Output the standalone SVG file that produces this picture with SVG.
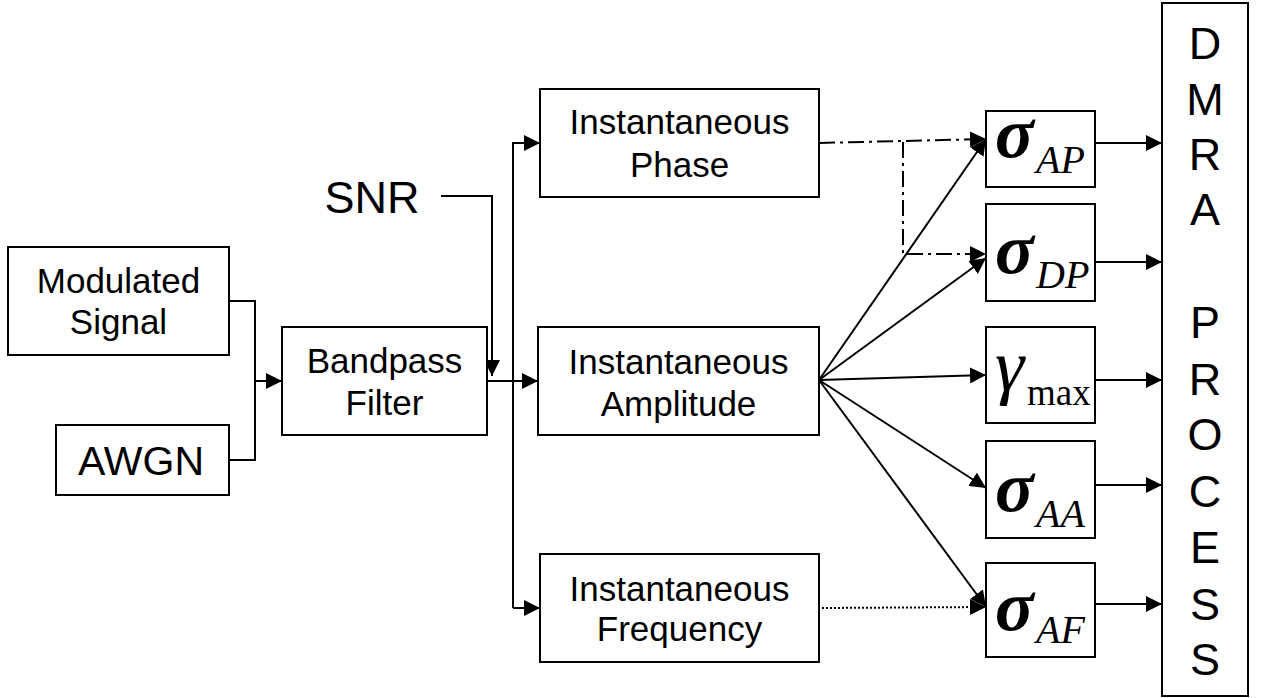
<svg xmlns="http://www.w3.org/2000/svg" width="1261" height="698" viewBox="0 0 1261 698">
<style>
.box{fill:#fff;stroke:#000;stroke-width:2}
.t{font-family:"Liberation Sans",Arial,sans-serif;font-size:35px;fill:#000;text-anchor:middle}
.big{font-family:"Liberation Sans",Arial,sans-serif;font-size:45px;fill:#000;text-anchor:middle}
.sig{font-family:"Liberation Serif","Times New Roman",serif;font-style:italic;font-weight:bold;font-size:72px;fill:#000}
.gam{font-family:"Liberation Serif","Times New Roman",serif;font-style:italic;font-size:74px;fill:#000}
.sub{font-family:"Liberation Serif","Times New Roman",serif;font-style:italic;font-size:40px;fill:#000}
.subr{font-family:"Liberation Serif","Times New Roman",serif;font-size:37px;fill:#000}
.ln{fill:none;stroke:#000;stroke-width:2}
.dd{fill:none;stroke:#000;stroke-width:2;stroke-dasharray:16 5 3 5}
.dot{fill:none;stroke:#000;stroke-width:2;stroke-dasharray:2 2}
</style>
<defs>
<marker id="ah" markerUnits="userSpaceOnUse" markerWidth="17" markerHeight="16" refX="16" refY="8" orient="auto">
<path d="M0,0 L16,8 L0,16 Z" fill="#000"/>
</marker>
</defs>
<rect width="1261" height="698" fill="#fff"/>
<g id="connectors">
<path class="ln" d="M229,301 H255 V460 H229"/>
<path class="ln" d="M255,381 H282" marker-end="url(#ah)"/>
<path class="ln" d="M441,196 H492 V376" marker-end="url(#ah)"/>
<path class="ln" d="M487,381 H538" marker-end="url(#ah)"/>
<path class="ln" d="M540,143 H513 V608"/>
<path class="ln" d="M513,143 H540" marker-end="url(#ah)"/>
<path class="ln" d="M513,608 H540" marker-end="url(#ah)"/>
<path class="dd" d="M819,143 L986,139" marker-end="url(#ah)"/>
<path class="dd" d="M903,142 V254 H986" marker-end="url(#ah)"/>
<path class="ln" d="M819,380 L986,139" marker-end="url(#ah)"/>
<path class="ln" d="M819,380 L986,258" marker-end="url(#ah)"/>
<path class="ln" d="M819,380 L986,375" marker-end="url(#ah)"/>
<path class="ln" d="M819,380 L986,488" marker-end="url(#ah)"/>
<path class="ln" d="M819,380 L986,607" marker-end="url(#ah)"/>
<path class="dot" d="M822,608 L986,607" marker-end="url(#ah)"/>
<path class="ln" d="M1095,143 H1162" marker-end="url(#ah)"/>
<path class="ln" d="M1095,262 H1162" marker-end="url(#ah)"/>
<path class="ln" d="M1095,380 H1162" marker-end="url(#ah)"/>
<path class="ln" d="M1095,485 H1162" marker-end="url(#ah)"/>
<path class="ln" d="M1095,604 H1162" marker-end="url(#ah)"/>
</g>
<g id="modulated">
<rect class="box" x="8" y="247" width="221" height="108"/>
<text class="t" x="118.5" y="293">Modulated</text>
<text class="t" x="118.5" y="334">Signal</text>
</g>
<g id="awgn">
<rect class="box" x="56" y="425" width="173" height="70"/>
<text class="t" x="141" y="475" style="font-size:41px">AWGN</text>
</g>
<g id="snr">
<text class="big" x="372" y="213">SNR</text>
</g>
<g id="bandpass">
<rect class="box" x="282" y="327" width="205" height="108"/>
<text class="t" x="384.5" y="373">Bandpass</text>
<text class="t" x="384.5" y="415">Filter</text>
</g>
<g id="phase">
<rect class="box" x="540" y="89" width="279" height="108"/>
<text class="t" x="679.5" y="134">Instantaneous</text>
<text class="t" x="679.5" y="177">Phase</text>
</g>
<g id="amplitude">
<rect class="box" x="538" y="327" width="281" height="108"/>
<text class="t" x="678.5" y="374">Instantaneous</text>
<text class="t" x="678.5" y="416">Amplitude</text>
</g>
<g id="frequency">
<rect class="box" x="540" y="554" width="279" height="108"/>
<text class="t" x="679.5" y="601">Instantaneous</text>
<text class="t" x="679.5" y="641">Frequency</text>
</g>
<g id="sigmaAP">
<rect class="box" x="986" y="111" width="109" height="76"/>
<text class="sig" x="995" y="157">σ</text>
<text class="sub" x="1036" y="173">AP</text>
</g>
<g id="sigmaDP">
<rect class="box" x="986" y="204" width="109" height="97"/>
<text class="sig" x="995" y="273">σ</text>
<text class="sub" x="1036" y="288">DP</text>
</g>
<g id="gammamax">
<rect class="box" x="986" y="327" width="109" height="96"/>
<text class="gam" x="995" y="390">γ</text>
<text class="subr" x="1027" y="405">max</text>
</g>
<g id="sigmaAA">
<rect class="box" x="986" y="441" width="109" height="97"/>
<text class="sig" x="995" y="511">σ</text>
<text class="sub" x="1036" y="527">AA</text>
</g>
<g id="sigmaAF">
<rect class="box" x="986" y="563" width="109" height="94"/>
<text class="sig" x="995" y="630">σ</text>
<text class="sub" x="1036" y="643">AF</text>
</g>
<g id="dmra">
<rect class="box" x="1162" y="3" width="86" height="693"/>
<text class="big" x="1205" y="59">D</text>
<text class="big" x="1205" y="115">M</text>
<text class="big" x="1205" y="170">R</text>
<text class="big" x="1205" y="225">A</text>
<text class="big" x="1205" y="338">P</text>
<text class="big" x="1205" y="395">R</text>
<text class="big" x="1205" y="450">O</text>
<text class="big" x="1205" y="507">C</text>
<text class="big" x="1205" y="563">E</text>
<text class="big" x="1205" y="620">S</text>
<text class="big" x="1205" y="675">S</text>
</g>
</svg>
